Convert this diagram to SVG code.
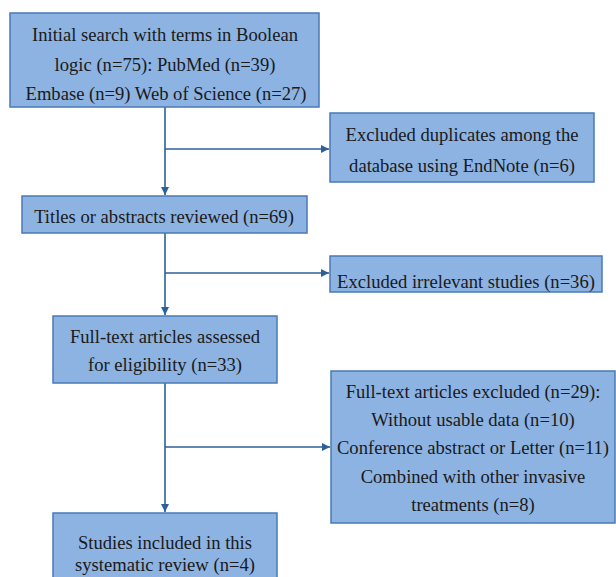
<svg xmlns="http://www.w3.org/2000/svg" width="616" height="577" viewBox="0 0 616 577">
<defs>
<style>
.box{fill:#8db3e2;stroke:#4a7ab5;stroke-width:1.5}
.t{font-family:'Liberation Serif','Times New Roman',serif;font-size:18.6px;fill:#1a1a1a;text-anchor:middle}
.c{stroke:#2c6098;stroke-width:1.6;fill:none}
</style>
<marker id="a" viewBox="0 0 10 10" refX="10" refY="5" markerWidth="8" markerHeight="8" markerUnits="userSpaceOnUse" orient="auto">
<path d="M0,0 L10,5 L0,10 z" fill="#2c6098"/>
</marker>
</defs>
<rect width="616" height="577" fill="#ffffff"/>
<g id="connectors">
<line class="c" x1="165" y1="107" x2="165" y2="195" marker-end="url(#a)"/>
<line class="c" x1="165" y1="149" x2="329" y2="149" marker-end="url(#a)"/>
<line class="c" x1="165" y1="233" x2="165" y2="315" marker-end="url(#a)"/>
<line class="c" x1="165" y1="273" x2="329" y2="273" marker-end="url(#a)"/>
<line class="c" x1="165" y1="383" x2="165" y2="512" marker-end="url(#a)"/>
<line class="c" x1="165" y1="447" x2="330" y2="447" marker-end="url(#a)"/>
</g>
<g id="n1">
<rect class="box" x="10" y="13" width="309" height="94"/>
<text class="t" x="165" y="41">Initial search with terms in Boolean</text>
<text class="t" x="165" y="71">logic (n=75): PubMed (n=39)</text>
<text class="t" x="166" y="100">Embase (n=9) Web of Science (n=27)</text>
</g>
<g id="n2">
<rect class="box" x="330" y="113" width="264" height="69"/>
<text class="t" x="462" y="141">Excluded duplicates among the</text>
<text class="t" x="462" y="172">database using EndNote (n=6)</text>
</g>
<g id="n3">
<rect class="box" x="22" y="196" width="285" height="37"/>
<text class="t" x="164" y="223">Titles or abstracts reviewed (n=69)</text>
</g>
<g id="n4">
<rect class="box" x="330" y="256" width="272" height="36"/>
<text class="t" x="466" y="288">Excluded irrelevant studies (n=36)</text>
</g>
<g id="n5">
<rect class="box" x="53" y="316" width="224" height="67"/>
<text class="t" x="165" y="343">Full-text articles assessed</text>
<text class="t" x="165" y="371">for eligibility (n=33)</text>
</g>
<g id="n6">
<rect class="box" x="331" y="371" width="284" height="152"/>
<text class="t" x="473" y="398">Full-text articles excluded (n=29):</text>
<text class="t" x="473" y="426">Without usable data (n=10)</text>
<text class="t" x="473" y="454">Conference abstract or Letter (n=11)</text>
<text class="t" x="473" y="483">Combined with other invasive</text>
<text class="t" x="473" y="511">treatments (n=8)</text>
</g>
<g id="n7">
<rect class="box" x="53" y="513" width="224" height="66"/>
<text class="t" x="165" y="549">Studies included in this</text>
<text class="t" x="165" y="571">systematic review (n=4)</text>
</g>
</svg>
